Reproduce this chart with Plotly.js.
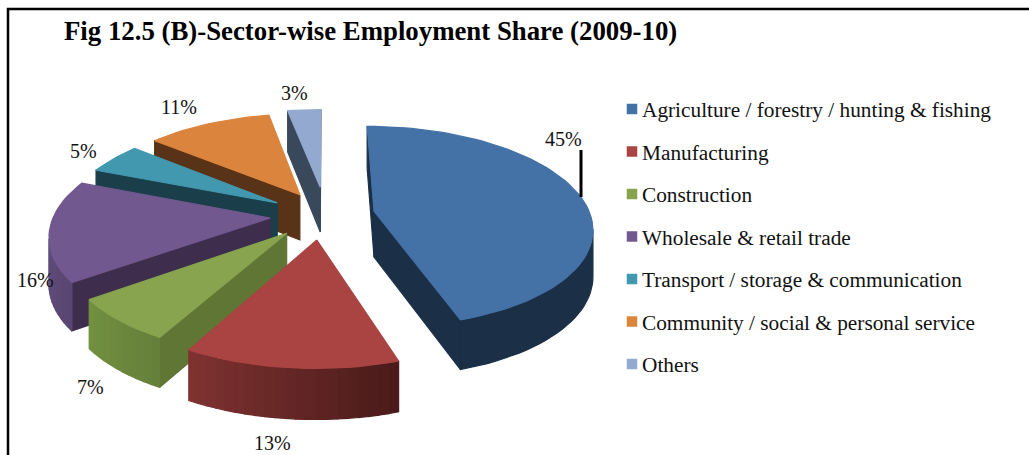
<!DOCTYPE html>
<html>
<head>
<meta charset="utf-8">
<script src="https://cdn.plot.ly/plotly-3.0.1.min.js"></script>
<style>html,body{margin:0;padding:0;background:#fff}#chart{width:1029px;height:455px}</style>
</head>
<body>
<div id="chart"></div>
<script>
// Employment share by sector, 2009-10 (percent)
const sectors = [
  'Agriculture / forestry / hunting & fishing',
  'Manufacturing',
  'Construction',
  'Wholesale & retail trade',
  'Transport / storage & communication',
  'Community / social & personal service',
  'Others'
];
const shares = [45, 13, 7, 16, 5, 11, 3];

// Slice styling
const topColors  = ['#4471a6', '#a94442', '#88a44e', '#71588f', '#4198af', '#db843d', '#93a9cf'];
const edgeColors = ['#1b2f47', '#4a1b1a', '#5f7635', '#3f2d4e', '#1a3e4a', '#593317', '#3a485c'];
const arcFrom    = ['#1b2f47', '#4a1b1a', '#65803a', '#5a4672', '#1a3e4a', '#593317', '#3a485c'];
const arcTo      = ['#1b2f47', '#7e3230', '#72903f', '#5f4b7a', '#1a3e4a', '#593317', '#3a485c'];
const explode    = [0.25, 0.25, 0.245, 0.245, 0.25, 0.25, 0.30];
const radiusGain = [1.02, 1.03, 1, 1.02, 1, 1.02, 1];
const nudgeX     = [0, 0, 0, 0, 0, 4, 4];

// Where each percentage label sits on the page
const labelX = [563, 272, 90, 35, 83, 179, 294];
const labelY = [139, 443, 387, 280, 151, 107, 93];

// Perspective camera for the tilted pie
const cam = {cx: 322, cy: 215, sx: 212, sy: 97, p: 0.15};
const depthAt = w => 72 - 26 * w;

function project(gx, gy) {
  const w = 1 + cam.p * gy;
  return {x: cam.cx + cam.sx * gx / w, y: cam.cy - cam.sy * gy / w, w: w};
}
function hex2rgb(h) { return [1, 3, 5].map(i => parseInt(h.substr(i, 2), 16)); }
function mix(a, b, t) {
  const A = hex2rgb(a), B = hex2rgb(b);
  return 'rgb(' + A.map((v, i) => Math.round(v + (B[i] - v) * t)).join(',') + ')';
}
function poly(pts, color) {
  return {
    type: 'scatter', mode: 'lines', fill: 'toself', fillcolor: color,
    x: pts.map(p => p.x).concat(pts[0].x), y: pts.map(p => p.y).concat(pts[0].y),
    line: {color: color, width: 1.2}, hoverinfo: 'skip', showlegend: false
  };
}
function dropped(p) { return {x: p.x, y: p.y + depthAt(p.w)}; }
function wall(a, b, color) { return poly([a, b, dropped(b), dropped(a)], color); }

// Each slice is built from its share of the full turn, clockwise from twelve o'clock
const traces = [];
const total = shares.reduce((a, b) => a + b, 0);
let acc = 0;
const slices = shares.map((v, i) => {
  const a0 = acc / total * 2 * Math.PI;
  acc += v;
  return {i: i, a0: a0, a1: acc / total * 2 * Math.PI};
});

// Painter's order: far slices first, with the first slice last
const drawOrder = [6, 5, 4, 3, 2, 1, 0];
drawOrder.forEach(i => {
  const s = slices[i];
  const mid = (s.a0 + s.a1) / 2;
  const ox = explode[i] * Math.sin(mid), oy = explode[i] * Math.cos(mid);
  const shift = p => ({x: p.x + nudgeX[i], y: p.y, w: p.w});
  const apex = shift(project(ox, oy));
  const n = Math.max(6, Math.ceil((s.a1 - s.a0) / 0.04));
  const arc = [];
  for (let k = 0; k <= n; k++) {
    const t = s.a0 + (s.a1 - s.a0) * k / n;
    arc.push(shift(project(ox + radiusGain[i] * Math.sin(t), oy + radiusGain[i] * Math.cos(t))));
  }
  // Only faces turned towards the viewer are drawn
  if (arc[0].x < apex.x) traces.push(wall(apex, arc[0], edgeColors[i]));
  if (apex.x < arc[n].x) traces.push(wall(arc[n], apex, edgeColors[i]));
  const vis = [];
  for (let k = 0; k < n; k++) if (arc[k + 1].x < arc[k].x) vis.push(k);
  if (arcFrom[i] === arcTo[i] && vis.length) {
    // A flat-coloured outer wall goes in as a single band
    const rim = vis.map(k => arc[k]).concat(arc[vis[vis.length - 1] + 1]);
    traces.push(poly(rim.concat(rim.slice().reverse().map(dropped)), arcFrom[i]));
  } else {
    vis.forEach((k, j) => {
      traces.push(wall(arc[k], arc[k + 1], mix(arcFrom[i], arcTo[i], vis.length > 1 ? j / (vis.length - 1) : 0)));
    });
  }
  traces.push(poly([apex].concat(arc), topColors[i]));
});

// Legend swatches
const legendX = 632, legendTop = 110, legendStep = 42.5;
traces.push({
  type: 'scatter', mode: 'markers',
  x: sectors.map(() => legendX),
  y: sectors.map((_, i) => legendTop + i * legendStep - 1),
  marker: {symbol: 'square', size: 10.5, color: topColors, line: {width: 0}},
  hoverinfo: 'skip', showlegend: false
});

const serif = '"Liberation Serif", "Times New Roman", serif';
const annotations = sectors.map((name, i) => ({
  x: 640, y: legendTop + i * legendStep, xref: 'x', yref: 'y', text: name,
  showarrow: false, xanchor: 'left', yanchor: 'middle',
  font: {family: serif, size: 21.3, color: '#111'}
})).concat(shares.map((v, i) => ({
  x: labelX[i], y: labelY[i], xref: 'x', yref: 'y', text: v + '%',
  showarrow: false, xanchor: 'center', yanchor: 'middle',
  font: {family: serif, size: 20, color: '#111'}
})));

const layout = {
  width: 1029, height: 455,
  margin: {l: 0, r: 0, t: 0, b: 0, pad: 0},
  paper_bgcolor: '#fff', plot_bgcolor: '#fff',
  showlegend: false,
  title: {
    text: '<b>Fig 12.5 (B)-Sector-wise Employment Share (2009-10)</b>',
    x: 64 / 1029, xanchor: 'left', y: 1 - 31 / 455, yanchor: 'middle',
    font: {family: serif, size: 26.8, color: '#000'}
  },
  xaxis: {range: [0, 1029], visible: false, fixedrange: true},
  yaxis: {range: [455, 0], visible: false, fixedrange: true},
  annotations: annotations,
  shapes: [
    {type: 'rect', xref: 'x', yref: 'y', x0: 8, y0: 9, x1: 1060, y1: 500, line: {color: '#000', width: 2.5}},
    {type: 'line', xref: 'x', yref: 'y', x0: 581, y0: 150, x1: 581, y1: 197, line: {color: '#000', width: 3}}
  ]
};

Plotly.newPlot('chart', traces, layout, {displayModeBar: false, staticPlot: true});
</script>
</body>
</html>
